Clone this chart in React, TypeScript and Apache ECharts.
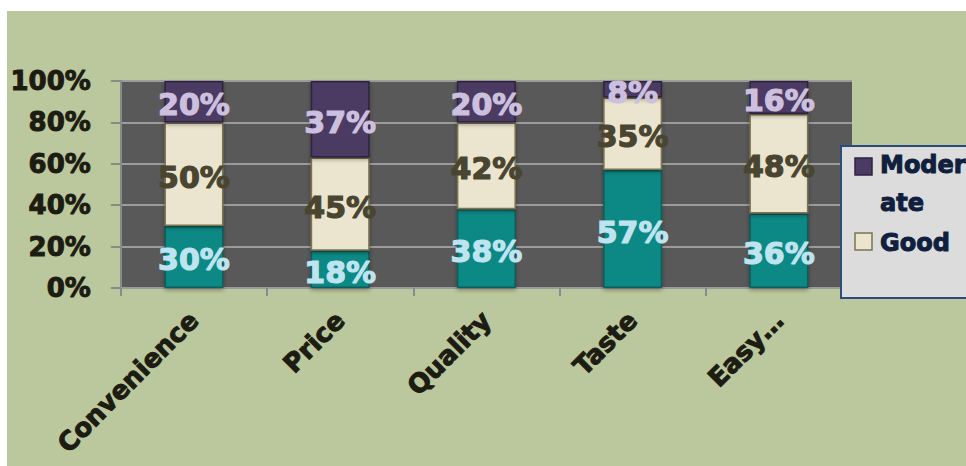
import React, { useEffect, useRef } from "react";
import * as echarts from "echarts";

const categories = ["Convenience", "Price", "Quality", "Taste", "Easy…"];
const seriesNames = ["Excellent", "Good", "Moderate"];
const excellentValues = [30, 18, 38, 57, 36];
const goodValues = [50, 45, 42, 35, 48];
const moderateValues = [20, 37, 20, 8, 16];
const yTicks = [0, 20, 40, 60, 80, 100];
const legendNames = ["Moderate", "Good"];
const legendLabels = ["Moder\nate", "Good"];

const FONT = "DejaVu Sans";

export default function App() {
  const ref = useRef<HTMLDivElement>(null);
  useEffect(() => {
    if (!ref.current) return;
    const chart = echarts.init(ref.current, null, { renderer: "svg" });
    const colors: Record<string, { fill: string; border: string; label: string }> = {
      Excellent: { fill: "#0e8985", border: "#0a5e5b", label: "#bfe4ef" },
      Good: { fill: "#ebe5cf", border: "#7b7450", label: "#4a4530" },
      Moderate: { fill: "#4b3a63", border: "#2f2341", label: "#cdc0df" },
    };
    const valuesByName: Record<string, number[]> = {
      Excellent: excellentValues,
      Good: goodValues,
      Moderate: moderateValues,
    };
    const series = seriesNames.map((name) => ({
      name,
      type: "bar",
      stack: "total",
      barWidth: 59,
      data: valuesByName[name],
      itemStyle: {
        color: colors[name].fill,
        borderColor: colors[name].border,
        borderWidth: 1.5,
        shadowColor: "rgba(0,0,0,0.35)",
        shadowBlur: 4,
        shadowOffsetY: 2,
      },
      label: {
        show: true,
        position: "inside",
        offset: [0, 3],
        formatter: "{c}%",
        fontFamily: FONT,
        fontWeight: "bold",
        fontSize: 30,
        color: colors[name].label,
        textBorderColor: colors[name].label,
        textBorderWidth: 1.2,
      },
    }));
    const legendGraphics: any[] = [
      {
        type: "rect",
        shape: { x: 834, y: 135, width: 160, height: 152 },
        style: { fill: "#dcdcdc", stroke: "#2b4a7e", lineWidth: 2 },
        z: 10,
      },
    ];
    legendNames.forEach((name, i) => {
      const iy = i === 0 ? 147 : 222;
      legendGraphics.push({
        type: "rect",
        shape: { x: 848, y: iy, width: 17, height: 17 },
        style: { fill: colors[name].fill, stroke: colors[name].border, lineWidth: 1.5 },
        z: 11,
      });
      legendGraphics.push({
        type: "text",
        x: 873,
        y: i === 0 ? 135 : 213,
        style: {
          text: legendLabels[i],
          fill: "#0f1f3d",
          stroke: "#0f1f3d",
          lineWidth: 1,
          font: `bold 24px "${FONT}"`,
          lineHeight: 38,
          verticalAlign: "top",
          align: "left",
        },
        z: 11,
      });
    });
    chart.setOption({
      animation: false,
      backgroundColor: "#bbc79c",
      grid: {
        left: 113,
        top: 70,
        width: 732,
        height: 207,
        show: true,
        backgroundColor: "#595959",
        borderWidth: 0,
        containLabel: false,
      },
      xAxis: {
        type: "category",
        data: categories,
        boundaryGap: true,
        axisLine: { show: true, lineStyle: { color: "#9a9a9a", width: 2 } },
        axisTick: { show: true, alignWithLabel: false, length: 8, lineStyle: { color: "#8a8a8a", width: 2 } },
        axisLabel: {
          rotate: 45,
          margin: 28,
          interval: 0,
          fontFamily: FONT,
          fontWeight: "bold",
          fontSize: 26,
          color: "#1c1c12",
          textBorderColor: "#1c1c12",
          textBorderWidth: 1,
        },
      },
      yAxis: {
        type: "value",
        min: yTicks[0],
        max: yTicks[yTicks.length - 1],
        interval: 20,
        axisLine: { show: true, lineStyle: { color: "#8a8a8a", width: 2 } },
        axisTick: { show: true, length: 10, lineStyle: { color: "#8a8a8a", width: 2 } },
        splitLine: { show: true, lineStyle: { color: "#9c9c9c", width: 2 } },
        axisLabel: {
          formatter: "{value}%",
          margin: 30,
          fontFamily: FONT,
          fontWeight: "bold",
          fontSize: 26,
          color: "#1c1c12",
          textBorderColor: "#1c1c12",
          textBorderWidth: 1,
        },
      },
      series,
      graphic: legendGraphics,
    });
    return () => chart.dispose();
  }, []);
  return (
    <div style={{ position: "fixed", left: 0, top: 0, width: 966, height: 466, background: "#ffffff" }}>
      <div ref={ref} style={{ position: "absolute", left: 7, top: 11, width: 959, height: 455 }} />
    </div>
  );
}
